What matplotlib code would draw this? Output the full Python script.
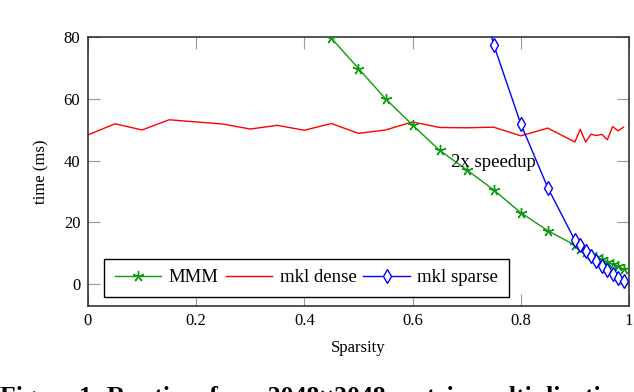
import numpy as np
import matplotlib.pyplot as plt

# sparsity levels
sparsity = [0.0, 0.05, 0.1, 0.15, 0.2, 0.25, 0.3, 0.35, 0.4, 0.45, 0.5, 0.55,
            0.6, 0.65, 0.7, 0.75, 0.8, 0.85, 0.9, 0.91, 0.92, 0.93, 0.94,
            0.95, 0.96, 0.97, 0.98, 0.99]

# mkl dense (ms)
dense = [48.3, 51.9, 49.9, 53.2, 52.5, 51.8, 50.2, 51.4, 49.8, 52.0, 48.8,
         49.9, 52.5, 50.7, 50.6, 50.8, 48.0, 50.5, 46.0, 50.1, 46.0, 48.5,
         48.1, 48.5, 46.7, 51.0, 49.6, 50.8]

# MMM (ms), starting at sparsity 0.45
mmm_x = sparsity[9:]
mmm = [79.6, 69.8, 60.0, 51.5, 43.3, 37.0, 30.5, 23.1, 17.3, 12.6, 11.2,
       10.3, 9.5, 8.7, 8.0, 7.2, 6.5, 5.7, 4.8]

# mkl sparse (ms), starting at sparsity 0.7
sparse_x = sparsity[14:]
sparse = [110.0, 77.5, 51.9, 31.2, 14.2, 12.6, 10.8, 9.1, 7.6, 6.0, 4.5,
          3.1, 2.0, 1.0]

plt.rcParams['font.family'] = ['Liberation Serif', 'DejaVu Serif']
fs = 12
fs_leg = 13.5

fig = plt.figure(figsize=(6.34, 3.92), dpi=100)
ax = fig.add_axes([0.1388, 0.2194, 0.8532, 0.6862])

green = '#0f9a0f'
ax.plot(mmm_x, mmm, color=green, lw=1.0, marker=(5, 2, 0), ms=8,
        mew=1.0, label='MMM', zorder=3)
ax.plot(sparsity, dense, color='#ff0000', lw=1.0, label='mkl dense', zorder=2)
ax.plot(sparse_x, sparse, color='#0000ff', lw=1.0, marker='d', ms=7,
        mfc='white', mec='#0000ff', mew=1.0, label='mkl sparse', zorder=4)

ax.text(0.75, 39.5, '2x speedup', fontsize=fs_leg, ha='center', va='center',
        zorder=5)

ax.set_xlim(0, 1)
ax.set_ylim(-7.1, 80)
ax.set_xticks([0, 0.2, 0.4, 0.6, 0.8, 1.0])
ax.set_xticklabels(['0', '0.2', '0.4', '0.6', '0.8', '1'])
ax.set_yticks([0, 20, 40, 60, 80])
ax.tick_params(direction='in', length=8.5, width=0.8, color='#999999',
               top=True, right=True, labelsize=fs)
ax.tick_params(axis='y', pad=5.5)
ax.tick_params(axis='x', pad=5)
for s in ax.spines.values():
    s.set_color('#333333')
    s.set_linewidth(1.2)

ax.set_xlabel('Sparsity', fontsize=fs, labelpad=8)
ax.set_ylabel('time (ms)', fontsize=fs, labelpad=10)

leg = ax.legend(loc='lower left', bbox_to_anchor=(0.03, 0.035),
                borderaxespad=0, ncol=3, fontsize=fs_leg, frameon=True,
                fancybox=False, edgecolor='black', framealpha=1,
                handlelength=2.5, handletextpad=0.38, columnspacing=0.38,
                borderpad=0.55)
leg.get_frame().set_linewidth(1.0)

# caption of the page, cut off at the bottom edge
fig.text(0.0, 6 / 392, 'Figure 1: Runtime for a 2048×2048 matrix multiplication',
         fontsize=18.5, fontweight='bold', ha='left', va='top')

fig.savefig('out.png', dpi=100)
